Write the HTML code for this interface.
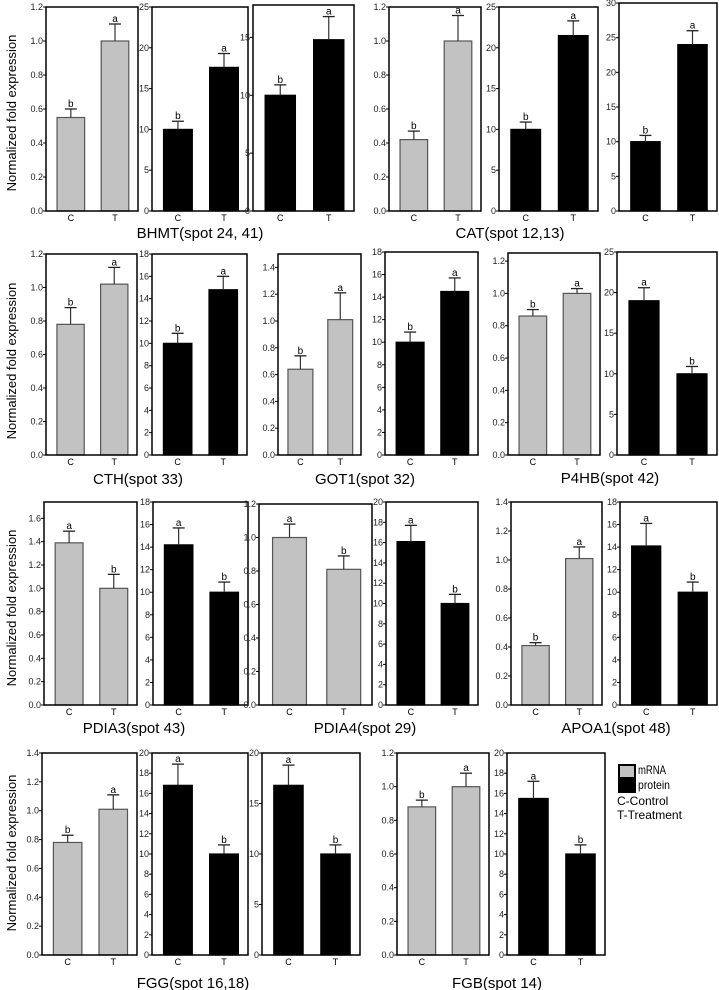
<!DOCTYPE html>
<html><head><meta charset="utf-8"><style>
html,body{margin:0;padding:0;background:#fff;}
svg{display:block;font-family:"Liberation Sans",Arial,sans-serif;}
</style></head><body>
<svg id="fig" width="719" height="990" viewBox="0 0 719 990" xmlns="http://www.w3.org/2000/svg"></svg>
<script>
// ---- data ----
const panelTypes = ['m','p','p','m','p','p', 'm','p','m','p','m','p', 'm','p','m','p','m','p', 'm','p','p','m','p'];
const ctrlValues = [0.55,10,10,0.42,10,10, 0.78,10,0.64,10,0.86,19, 1.39,14.2,1.0,16.1,0.41,14.1, 0.78,16.8,16.8,0.88,15.5];
const treatValues = [1.0,17.6,14.8,1.0,21.5,24, 1.02,14.8,1.01,14.5,1.0,10, 1.0,10,0.81,10,1.01,10, 1.01,10,10,1.0,10];
const ctrlErrors = [0.05,1,0.9,0.05,0.9,0.9, 0.1,0.9,0.1,0.9,0.04,1.6, 0.1,1.5,0.08,1.6,0.02,2.0, 0.05,2.1,2.0,0.04,1.7];
const treatErrors = [0.1,1.7,2.0,0.15,1.8,2.0, 0.1,1.2,0.2,1.2,0.03,0.9, 0.12,0.9,0.08,0.9,0.08,0.9, 0.1,0.9,0.9,0.08,0.9];
const ctrlLetters = ['b','b','b','b','b','b', 'b','b','b','b','b','a', 'a','a','a','a','b','a', 'b','a','a','b','a'];
const treatLetters = ['a','a','a','a','a','a', 'a','a','a','a','a','b', 'b','b','b','b','a','b', 'a','b','b','a','b'];
const yMaxes = [1.2,25,17.8,1.2,25,30, 1.2,18,1.5,18,1.25,25, 1.74,18,1.2,20,1.4,18, 1.4,20,20,1.2,20];
const tickSteps = [0.2,5,5,0.2,5,5, 0.2,2,0.2,2,0.2,5, 0.2,2,0.2,2,0.2,2, 0.2,2,5,0.2,2];
const categories = ['C','T'];
const titles = ['BHMT(spot 24, 41)','CAT(spot 12,13)','CTH(spot 33)','GOT1(spot 32)','P4HB(spot 42)','PDIA3(spot 43)','PDIA4(spot 29)','APOA1(spot 48)','FGG(spot 16,18)','FGB(spot 14)'];
// ---- layout ----
const frames = [
 [46,138,7,211],[152,248,7,211],[253,354,5,211],[389,481,7,211],[499,598,7,211],[619,717,3,211],
 [46,137,254,455],[152,247,254,455],[278,361,254,455],[385,478,252,455],[508,600,253,455],[617,717,252,455],
 [44,137,502,705],[153,248,502,705],[259,372,504,705],[386,478,502,705],[511,602,502,705],[620,717,502,705],
 [42,137,753,955],[152,248,753,955],[262,360,753,955],[397,489,753,955],[507,605,753,955]];
const titlePos = [[200,238],[510,238],[138,484],[365,484],[610,483],[134,733],[365,733],[616,733],[193,988],[497,988]];
const yLabelCenters = [113,361,608,853];

const NS='http://www.w3.org/2000/svg';
const svg=document.getElementById('fig');
function mk(tag,attrs,parent){const e=document.createElementNS(NS,tag);for(const k in attrs)e.setAttribute(k,attrs[k]);(parent||svg).appendChild(e);return e;}

panelTypes.forEach((type,i)=>{
  const [L,R,T,B]=frames[i];
  const W=R-L;
  const g=mk('g',{});
  
  
  const y=v=>B-(v/yMaxes[i])*(B-T);
  const x0=L+0.12*W, bw=0.3*W;
  const xs=[x0, L+0.6*W];
  const vals=[ctrlValues[i],treatValues[i]];
  const errs=[ctrlErrors[i],treatErrors[i]];
  const lets=[ctrlLetters[i],treatLetters[i]];
  vals.forEach((v,j)=>{
    const b=mk('rect',{x:xs[j],y:y(v),width:bw,height:B-y(v),fill:type==='m'?'#c2c2c2':'#000',stroke:type==='m'?'#555':'#000','stroke-width':1.2},g);
    
    
    const cx=xs[j]+bw/2, ye=y(v+errs[j]);
    mk('line',{x1:cx,y1:y(v),x2:cx,y2:ye,stroke:'#333','stroke-width':1.2},g);
    mk('line',{x1:cx-6,y1:ye,x2:cx+6,y2:ye,stroke:'#222','stroke-width':1.3},g);
    const lt=mk('text',{x:cx,y:ye-2,'font-size':10,'text-anchor':'middle',fill:'#000'},g);
    lt.textContent=lets[j];
    
    
    const xl=mk('text',{x:cx,y:B+10,'font-size':9,'text-anchor':'middle',fill:'#000'},g);
    xl.textContent=categories[j];
    
    
  });
  const st=tickSteps[i];
  for(let k=0;k*st<=yMaxes[i]+1e-9;k++){
    const v=k*st, yy=y(v);
    mk('line',{x1:L-3,y1:yy,x2:L,y2:yy,stroke:'#000','stroke-width':1},g);
    const t=mk('text',{x:L-3,y:yy+3,'font-size':type==='m'?9:9,'text-anchor':'end',fill:'#222'},g);
    t.textContent=type==='m'?v.toFixed(1):String(Math.round(v));
    
    
  }
  const fr=mk('rect',{x:L,y:T,width:W,height:B-T,fill:'none',stroke:'#000','stroke-width':1.5},g);
  
  
});

titles.forEach((t,i)=>{
  const e=mk('text',{x:titlePos[i][0],y:titlePos[i][1],'font-size':15,'text-anchor':'middle',fill:'#000'});
  e.textContent=t;
  
  
});
yLabelCenters.forEach(c=>{
  const e=mk('text',{x:0,y:0,'font-size':13,'text-anchor':'middle',fill:'#000',transform:'translate(16,'+c+') rotate(-90)'});
  e.textContent='Normalized fold expression';
  
  
});
// legend
const lg=mk('g',{});


mk('rect',{x:618,y:764,width:18,height:29,fill:'#000'},lg);
mk('rect',{x:620,y:766,width:14,height:11,fill:'#c2c2c2'},lg);
const lt=[['mRNA',638,774,12,'legend-entry-mrna'],['protein',638,789,12,'legend-entry-protein'],['C-Control',617,805,12,'legend-control'],['T-Treatment',617,819,12,'legend-treatment']];
lt.forEach(a=>{
  const e=mk('text',{x:a[1],y:a[2],'font-size':a[3],fill:'#000'},lg);
  if(a[0]==='mRNA'||a[0]==='protein'){e.setAttribute('textLength',a[0]==='mRNA'?28:32);e.setAttribute('lengthAdjust','spacingAndGlyphs');}
  e.textContent=a[0];
  
  
});
</script>
</body></html>
